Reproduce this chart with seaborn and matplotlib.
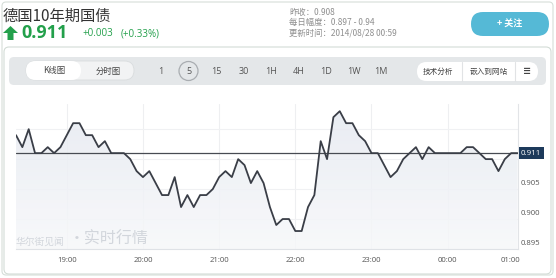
import numpy as np
import pandas as pd
import matplotlib
matplotlib.use("Agg")
import matplotlib.pyplot as plt
import matplotlib.dates as mdates
from matplotlib.transforms import Affine2D, ScaledTranslation
from matplotlib.patches import FancyBboxPatch, Polygon, Circle
from matplotlib.colors import LinearSegmentedColormap
import seaborn as sns

# ---------------- data ----------------
title = "德国10年期国债"
last_price = 0.911
change_abs = "+0.003"
change_pct = "(+0.33%)"
info_lines = ["昨收：0.908", "每日幅度：0.897 - 0.94", "更新时间：2014/08/28 00:59"]
periods = ["1", "5", "15", "30", "1H", "4H", "1D", "1W", "1M"]
start_time = "2014-08-27 18:20"
values = [0.914, 0.912, 0.915, 0.911, 0.911, 0.912, 0.911, 0.912, 0.914, 0.916,
          0.916, 0.914, 0.914, 0.912, 0.913, 0.911, 0.911, 0.911, 0.910, 0.908,
          0.907, 0.908, 0.906, 0.904, 0.904, 0.907, 0.902, 0.904, 0.902, 0.904,
          0.904, 0.905, 0.907, 0.908, 0.907, 0.910, 0.909, 0.906, 0.908, 0.906,
          0.902, 0.899, 0.900, 0.900, 0.898, 0.898, 0.902, 0.904, 0.913, 0.910,
          0.917, 0.918, 0.916, 0.916, 0.914, 0.913, 0.911, 0.911, 0.909, 0.907,
          0.908, 0.910, 0.911, 0.912, 0.910, 0.912, 0.911, 0.911, 0.911, 0.911,
          0.911, 0.912, 0.912, 0.911, 0.910, 0.910, 0.908, 0.910, 0.911, 0.911]
hour_ticks = ["2014-08-27 19:00", "2014-08-27 20:00", "2014-08-27 21:00",
              "2014-08-27 22:00", "2014-08-27 23:00", "2014-08-28 00:00"]
hour_labels = ["19:00", "20:00", "21:00", "22:00", "23:00", "00:00"]
end_label = "01:00"
y_ticks = [0.895, 0.900, 0.905, 0.910, 0.915]
y_labels = ["0.895", "0.900", "0.905"]
y_min, y_max = 0.895, 0.9192

times = pd.date_range(start_time, periods=len(values), freq="5min")
df = pd.DataFrame({"time": times, "value": values})

# ---------------- figure ----------------
sns.set_theme(style="white")
plt.rcParams["font.family"] = ["Noto Sans CJK SC", "DejaVu Sans"]

W, H = 556, 278
fig = plt.figure(figsize=(W / 100, H / 100), dpi=100)
fig.patch.set_facecolor("white")
# pixel transform (x from left, y from top)
T = Affine2D().scale(0.01, -0.01).translate(0, H / 100) + fig.dpi_scale_trans

GREEN = "#23a04b"
GREY = "#8f8f8f"

def box(x0, y0, x1, y1, fc, ec="none", r=3, lw=0.8, z=-5):
    p = FancyBboxPatch((x0, y0), x1 - x0, y1 - y0,
                       boxstyle=f"round,pad=0,rounding_size={r}",
                       transform=T, facecolor=fc, edgecolor=ec, lw=lw, zorder=z)
    fig.patches.append(p)
    return p

# outer card
box(2, 2, 553, 275, "white", ec="#d6ded9", r=4, lw=0.8, z=-10)
box(4, 47, 551, 274, "white", ec="#d3dcd6", r=5, lw=0.8, z=-9)

# header
fig.text(3, 16, title, transform=T, fontsize=11, color="#333333", va="center", ha="left")
arrow = Polygon([(10.5, 26), (3, 33), (7.5, 33), (7.5, 40), (13.5, 40), (13.5, 33), (18, 33)],
                closed=True, transform=T, facecolor=GREEN, edgecolor="none")
fig.patches.append(arrow)
fig.text(21, 33, f"{last_price:.3f}", transform=T, fontsize=13, color=GREEN,
         fontweight="bold", va="center", ha="left", family=["Open Sans", "DejaVu Sans"])
fig.text(82, 34, change_abs, transform=T, fontsize=7, color=GREEN, va="center", ha="left",
         family=["Open Sans", "DejaVu Sans"])
fig.text(121, 34, change_pct, transform=T, fontsize=7, color=GREEN, va="center", ha="left",
         family=["Open Sans", "DejaVu Sans"])
for i, line in enumerate(info_lines):
    fig.text(289, 12 + i * 10.5, line, transform=T, fontsize=6, color=GREY, va="center", ha="left")
box(471, 12, 549, 36, "#55b9d6", r=12)
fig.text(510, 24, "+ 关注", transform=T, fontsize=6.5, color="white", va="center", ha="center",
         fontweight="bold")

# toolbar
box(9, 57, 546, 85, "#e4e7e9", r=5)
box(26, 61, 134, 80, "#f2f3f4", ec="#d9dcde", r=9.5, lw=0.6, z=-4)
box(26, 61, 81, 80, "white", r=9.5, z=-3)
fig.text(54, 71, "K线图", transform=T, fontsize=6, color="#444444", va="center", ha="center")
fig.text(108, 71, "分时图", transform=T, fontsize=6, color="#444444", va="center", ha="center")
for i, p in enumerate(periods):
    x = 161 + i * 27.5
    fig.text(x, 71, p, transform=T, fontsize=6.5, color="#555555", va="center", ha="center",
             family=["Open Sans", "DejaVu Sans"])
    if p == "5":
        c = Circle((x, 71), 9.5, transform=T, facecolor="none", edgecolor="#a9adb1", lw=0.9)
        fig.patches.append(c)
box(417, 62, 538, 81, "white", r=9.5, z=-4)
for xd in (462, 515):
    fig.lines.append(plt.Line2D([xd, xd], [62, 81], transform=T, color="#e1e3e5", lw=0.8))
fig.text(438, 71.5, "技术分析", transform=T, fontsize=5.5, color="#444444", va="center", ha="center")
fig.text(489, 71.5, "嵌入到网站", transform=T, fontsize=5.5, color="#444444", va="center", ha="center")
fig.text(527, 71.5, "≡", transform=T, fontsize=7, color="#444444", va="center", ha="center",
         fontweight="bold", family=["DejaVu Sans"])

# ---------------- chart ----------------
ax_left, ax_right, ax_top, ax_bottom = 16, 517.5, 104, 249
ax = fig.add_axes([ax_left / W, 1 - ax_bottom / H, (ax_right - ax_left) / W, (ax_bottom - ax_top) / H])
ax.set_facecolor("none")
ax.set_zorder(5)

# gradient fill under the line
poly = ax.fill_between(df["time"], df["value"], y_min, color="none", lw=0)
cmap = LinearSegmentedColormap.from_list("g", ["#f7f8fa", "#e6eaf1"])
x0n, x1n = mdates.date2num(times[0]), mdates.date2num(times[-1])
grad = np.linspace(0, 1, 256).reshape(-1, 1)
im = ax.imshow(grad, extent=[x0n, x1n, y_min, 0.918], origin="lower", aspect="auto",
               cmap=cmap, zorder=1, alpha=0.85)
im.set_clip_path(poly.get_paths()[0], transform=ax.transData)

# watermark (over the fill, under the line)
ax.text(16, 241.5, "华尔街见闻", transform=T, fontsize=7, color="#d2d6dc", va="center", ha="left",
        zorder=2)
ax.text(69, 239.5, "·实时行情", transform=T, fontsize=11.5, color="#d2d6dc", va="center", ha="left",
        zorder=2)

sns.lineplot(data=df, x="time", y="value", ax=ax, color="#3a3e47", lw=1.3, zorder=4)
ax.axhline(last_price, color="#474b52", lw=0.9, zorder=3)

ax.set_xlim(times[0], times[-1])
ax.set_ylim(y_min, y_max)

# grid
for t in pd.to_datetime(hour_ticks):
    ax.axvline(t, color="#eeeff1", lw=0.8, zorder=0)
for yv in y_ticks[1:]:
    ax.axhline(yv, color="#f0f1f3", lw=0.8, zorder=0)

for s in ["left", "top"]:
    ax.spines[s].set_visible(False)
ax.spines["right"].set_color("#e2e4e7")
ax.spines["right"].set_linewidth(0.8)
ax.spines["bottom"].set_color("#dfe2e6")
ax.spines["bottom"].set_linewidth(0.8)

xt = list(pd.to_datetime(hour_ticks)) + [times[-1]]
ax.set_xticks(xt)
ax.set_xticklabels(hour_labels + [end_label])
ax.tick_params(axis="x", length=0, pad=6, labelsize=5.6, labelcolor="#555555")
for lab in ax.get_xticklabels():
    lab.set_family(["Open Sans", "DejaVu Sans"])
last_lab = ax.get_xticklabels()[-1]
last_lab.set_transform(last_lab.get_transform() + ScaledTranslation(-7 / 100, 0, fig.dpi_scale_trans))
ax.set_yticks([])
ax.set_ylabel("")
ax.set_xlabel("")

# right side y labels (drawn slightly above their grid lines)
for v, s in zip(y_ticks, y_labels):
    ax.annotate(s, xy=(1, v), xycoords=("axes fraction", "data"), xytext=(2, 1.5),
                textcoords="offset points", fontsize=5.6, color="#555555", ha="left", va="bottom",
                family=["Open Sans", "DejaVu Sans"], annotation_clip=False)
ax.annotate(f"{last_price:.3f}", xy=(1, last_price), xycoords=("axes fraction", "data"),
            xytext=(2.5, 0), textcoords="offset points", fontsize=5.8, color="white",
            ha="left", va="center", family=["Open Sans", "DejaVu Sans"], annotation_clip=False,
            bbox=dict(boxstyle="square,pad=0.28", fc="#1d3a5b", ec="none"))

fig.savefig("out.png", dpi=100, facecolor="white")
